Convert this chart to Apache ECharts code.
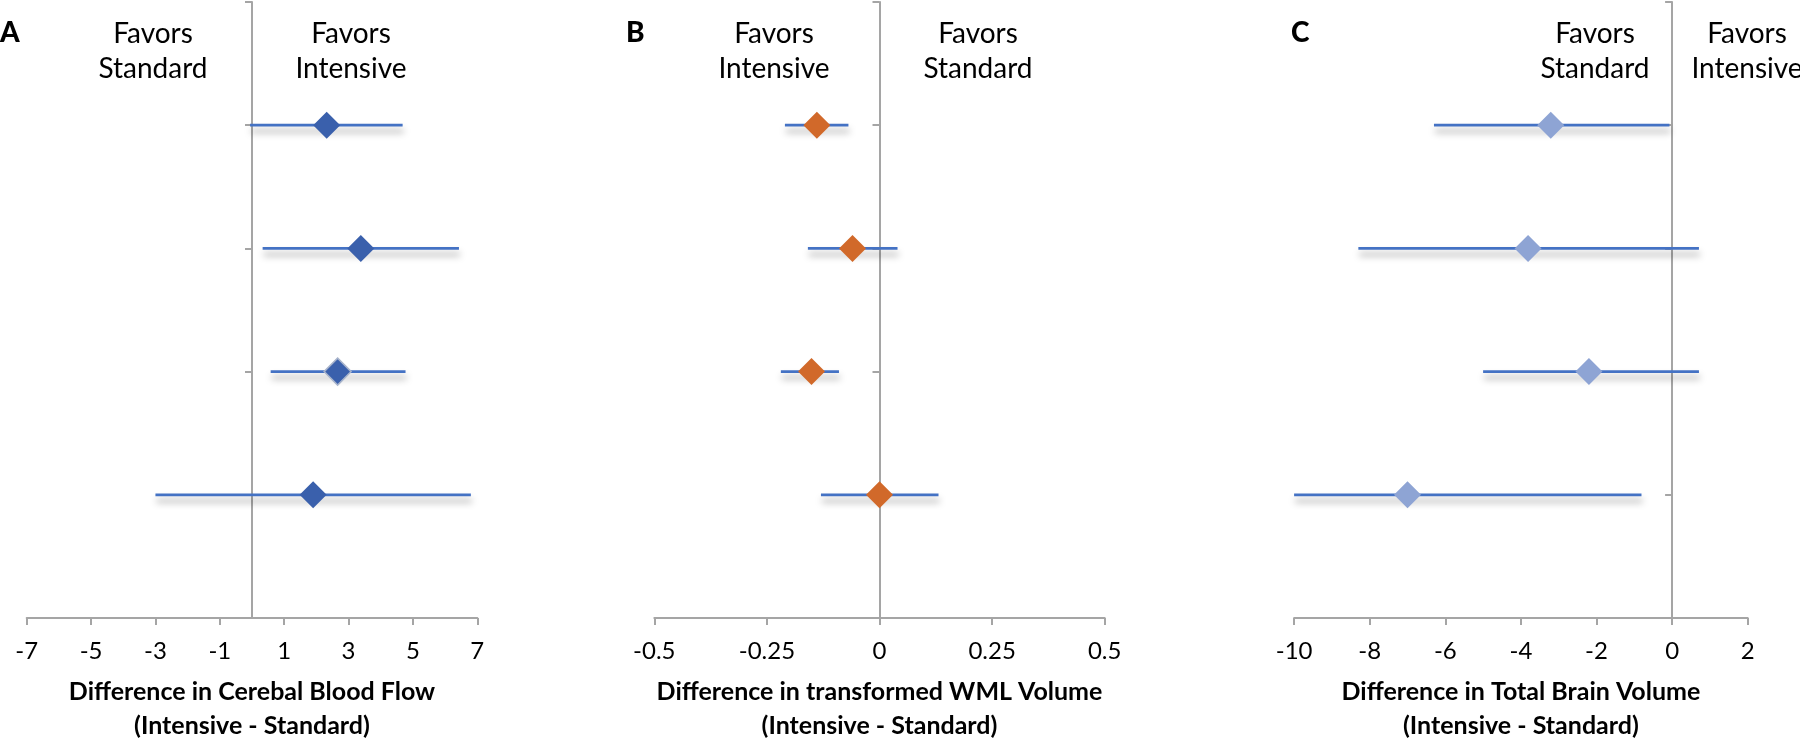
<!DOCTYPE html>
<html>
<head>
<meta charset="utf-8">
<script src="https://cdn.jsdelivr.net/npm/echarts@6/dist/echarts.min.js"></script>
<style>html,body{margin:0;padding:0;background:#fff;}#c{width:1800px;height:748px;}</style>
</head>
<body>
<div id="c"></div>
<script>
// Row positions (top to bottom)
const rows = [4, 3, 2, 1];

// Panel A: Cerebral Blood Flow
const cbfEst  = [2.32, 3.38, 2.66, 1.90];
const cbfLow  = [-0.06, 0.33, 0.58, -3.00];
const cbfHigh = [4.68, 6.43, 4.77, 6.80];
const cbfTicks = [-7, -5, -3, -1, 1, 3, 5, 7];

// Panel B: transformed WML Volume
const wmlEst  = [-0.139, -0.060, -0.151, 0.000];
const wmlLow  = [-0.210, -0.159, -0.219, -0.130];
const wmlHigh = [-0.069, 0.040, -0.090, 0.131];
const wmlTicks = [-0.5, -0.25, 0, 0.25, 0.5];

// Panel C: Total Brain Volume
const tbvEst  = [-3.21, -3.81, -2.20, -7.00];
const tbvLow  = [-6.30, -8.30, -5.00, -10.00];
const tbvHigh = [-0.07, 0.71, 0.71, -0.81];
const tbvTicks = [-10, -8, -6, -4, -2, 0, 2];

const panelTitles = ['Difference in Cerebal Blood Flow\n(Intensive - Standard)',
                     'Difference in transformed WML Volume\n(Intensive - Standard)',
                     'Difference in Total Brain Volume\n(Intensive - Standard)'];

const FONT = 'Lato, "Open Sans", sans-serif';
const AXIS_COLOR = '#A5A5A5';

const grids = [
  {left: 26.7, top: 2, width: 450.6, height: 625.7},
  {left: 654.3, top: 2, width: 450.4, height: 625.7},
  {left: 1294.1, top: 2, width: 453.6, height: 625.7}
];

function xAxisDef(idx, min, max, ticks) {
  return {
    type: 'value', gridIndex: idx, min: min, max: max,
    name: panelTitles[idx], nameLocation: 'middle', nameGap: 57,
    nameTextStyle: {fontFamily: FONT, fontWeight: 'bold', fontSize: 25, color: '#000', lineHeight: 34},
    axisLine: {show: true, onZero: true, lineStyle: {color: AXIS_COLOR, width: 2}},
    axisTick: {show: true, length: 7, customValues: ticks, lineStyle: {color: AXIS_COLOR, width: 2}},
    axisLabel: {show: true, customValues: ticks, margin: 21, fontFamily: FONT, fontSize: 24, color: '#000'},
    splitLine: {show: false}
  };
}
function yAxisDef(idx) {
  return {
    type: 'value', gridIndex: idx, min: 0, max: 5, interval: 1,
    axisLine: {show: true, onZero: true, lineStyle: {color: AXIS_COLOR, width: 2}},
    axisTick: {show: true, length: 7, inside: false, lineStyle: {color: AXIS_COLOR, width: 2}},
    axisLabel: {show: false},
    splitLine: {show: false}
  };
}

function barSeries(idx, low, high) {
  return {
    type: 'custom', xAxisIndex: idx, yAxisIndex: idx, clip: false, z: 3,
    data: rows.map((r, i) => [low[i], high[i], r]),
    encode: {x: [0, 1], y: 2},
    renderItem: function (params, api) {
      const p1 = api.coord([api.value(0), api.value(2)]);
      const p2 = api.coord([api.value(1), api.value(2)]);
      return {
        type: 'line',
        shape: {x1: p1[0], y1: p1[1], x2: p2[0], y2: p2[1]},
        style: {stroke: '#4472C4', lineWidth: 2.8, shadowBlur: 7, shadowColor: 'rgba(0,0,0,0.38)', shadowOffsetY: 6, shadowOffsetX: 1}
      };
    }
  };
}
function pointSeries(idx, est, color, special) {
  return {
    type: 'scatter', xAxisIndex: idx, yAxisIndex: idx, z: 5,
    symbol: 'diamond', symbolSize: 27,
    itemStyle: {color: color, opacity: 1},
    data: rows.map((r, i) => {
      const d = {value: [est[i], r]};
      if (special && special[i]) d.itemStyle = special[i];
      return d;
    }),
    emphasis: {disabled: true}
  };
}

function txt(x, y, text, align, bold, size) {
  return {
    type: 'text', x: x, y: y,
    style: {text: text, fill: '#000', font: (bold ? '900 ' : '') + size + 'px ' + FONT,
            align: align, verticalAlign: 'middle', lineHeight: 35}
  };
}

const chart = echarts.init(document.getElementById('c'), null, {renderer: 'canvas'});
chart.setOption({
  animation: false,
  backgroundColor: '#fff',
  grid: grids,
  xAxis: [xAxisDef(0, -7, 7, cbfTicks), xAxisDef(1, -0.5, 0.5, wmlTicks), xAxisDef(2, -10, 2, tbvTicks)],
  yAxis: [yAxisDef(0), yAxisDef(1), yAxisDef(2)],
  series: [
    barSeries(0, cbfLow, cbfHigh),
    pointSeries(0, cbfEst, '#3A60AC', {2: {borderColor: '#A8B4CC', borderWidth: 1.5}}),
    barSeries(1, wmlLow, wmlHigh),
    pointSeries(1, wmlEst, '#D1692A'),
    barSeries(2, tbvLow, tbvHigh),
    pointSeries(2, tbvEst, '#8EA4D4')
  ],
  graphic: [
    txt(0, 33, 'A', 'left', true, 28),
    txt(626, 33, 'B', 'left', true, 28),
    txt(1291, 33, 'C', 'left', true, 28),
    txt(153, 51, 'Favors\nStandard', 'center', false, 28),
    txt(351, 51, 'Favors\nIntensive', 'center', false, 28),
    txt(774, 51, 'Favors\nIntensive', 'center', false, 28),
    txt(978, 51, 'Favors\nStandard', 'center', false, 28),
    txt(1595, 51, 'Favors\nStandard', 'center', false, 28),
    txt(1747, 51, 'Favors\nIntensive', 'center', false, 28)
  ]
});
</script>
</body>
</html>
